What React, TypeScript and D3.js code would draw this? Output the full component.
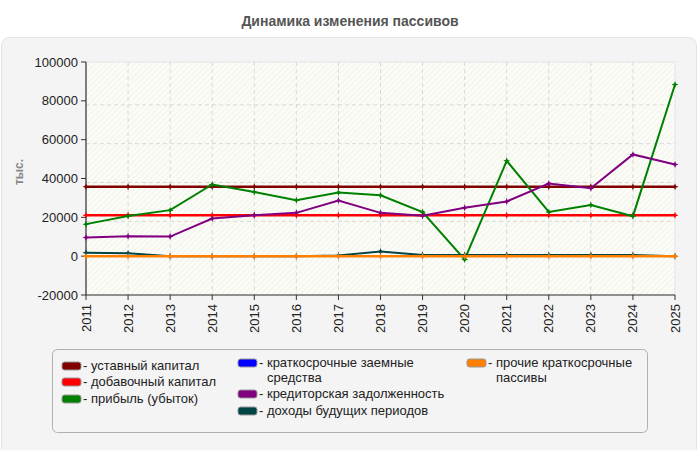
import React from "react";
import * as d3 from "d3";

const years = [2011, 2012, 2013, 2014, 2015, 2016, 2017, 2018, 2019, 2020, 2021, 2022, 2023, 2024, 2025];
const yTicks = [-20000, 0, 20000, 40000, 60000, 80000, 100000];

const ustavny = [35700, 35700, 35700, 35700, 35700, 35700, 35700, 35700, 35700, 35700, 35700, 35700, 35700, 35700, 35700];
const dobavochny = [21100, 21100, 21100, 21100, 21100, 21100, 21100, 21100, 21100, 21100, 21100, 21100, 21100, 21100, 21100];
const pribyl = [16500, 20700, 23700, 36900, 33100, 28800, 32800, 31400, 22700, -1700, 49100, 22800, 26300, 20600, 88400];
const kratkoZaem: (number | null)[] = [null, null, null, null, null, null, null, null, null, null, null, null, null, null, null];
const kreditor = [9600, 10300, 10100, 19400, 21100, 22300, 28700, 22300, 20800, 24900, 28200, 37400, 35000, 52400, 47200];
const dohody = [1700, 1500, 0, 0, 0, 0, 400, 2400, 600, 600, 600, 600, 600, 600, 0];
const prochie = [0, 0, 0, 0, 0, 0, 0, 0, 0, 0, 0, 0, 0, 0, 0];

const seriesNames = [
  "уставный капитал",
  "добавочный капитал",
  "прибыль (убыток)",
  "краткосрочные заемные средства",
  "кредиторская задолженность",
  "доходы будущих периодов",
  "прочие краткосрочные пассивы",
];
const seriesColors = ["#800000", "#ff0000", "#008000", "#0000ff", "#800080", "#004444", "#ff8000"];
const seriesData: (number | null)[][] = [ustavny, dobavochny, pribyl, kratkoZaem, kreditor, dohody, prochie];
const seriesWidths = [2.5, 2.5, 2, 2, 2, 2, 2.5];

const W = 700;
const H = 450;
const FONT = "'Liberation Sans', Arial, sans-serif";

export default function App() {
  const x = d3.scaleLinear().domain([2011, 2025]).range([86, 675]);
  const y = d3.scaleLinear().domain([-20000, 100000]).range([295, 62]);
  const line = d3
    .line<[number, number | null]>()
    .defined((d) => d[1] !== null)
    .x((d) => x(d[0]))
    .y((d) => y(d[1] as number));

  const legendLayout = [
    { col: 0, lines: ["уставный капитал"], y: 370 },
    { col: 0, lines: ["добавочный капитал"], y: 386 },
    { col: 0, lines: ["прибыль (убыток)"], y: 403 },
    { col: 1, lines: ["краткосрочные заемные", "средства"], y: 367 },
    { col: 1, lines: ["кредиторская задолженность"], y: 398 },
    { col: 1, lines: ["доходы будущих периодов"], y: 415 },
    { col: 2, lines: ["прочие краткосрочные", "пассивы"], y: 367 },
  ];
  const colX = [62, 238, 467];

  return (
    <svg width={W} height={H} style={{ position: "absolute", left: 0, top: 0 }} fontFamily={FONT}>
      <defs>
        <pattern id="hatch" width="4" height="4" patternUnits="userSpaceOnUse" patternTransform="rotate(45)">
          <rect width="4" height="4" fill="#fcfcf6" />
          <line x1="0" y1="0" x2="0" y2="4" stroke="#ececea" strokeWidth="1.2" />
        </pattern>
      </defs>
      <rect x={0} y={0} width={W} height={H} fill="#ffffff" />
      <text x={350} y={26} textAnchor="middle" fontSize={14} fontWeight="bold" fill="#555">
        Динамика изменения пассивов
      </text>
      <rect x={1.5} y={37.5} width={695} height={420} rx={8} fill="#f4f4f4" stroke="#e2e2e2" />

      {/* plot area */}
      <rect x={x(2011)} y={y(100000)} width={x(2025) - x(2011)} height={y(-20000) - y(100000)} fill="url(#hatch)" stroke="#e4e4e4" />

      {/* grid */}
      {yTicks
        .filter((t) => t > 0 && t < 100000)
        .map((t) => (
          <line key={"gy" + t} x1={x(2011)} x2={x(2025)} y1={y(t) + 4} y2={y(t) + 4} stroke="#d8d8d8" strokeDasharray="4,3" />
        ))}
      {years.slice(1, -1).map((yr) => (
        <line key={"gx" + yr} x1={x(yr)} x2={x(yr)} y1={y(100000)} y2={y(-20000)} stroke="#d8d8d8" strokeDasharray="4,3" />
      ))}

      {/* axes */}
      <line x1={x(2011)} x2={x(2011)} y1={y(100000)} y2={y(-20000)} stroke="#333" strokeWidth={1.2} />
      <line x1={x(2011)} x2={x(2025)} y1={y(-20000)} y2={y(-20000)} stroke="#333" strokeWidth={1.2} />
      {yTicks.map((t) => (
        <g key={"yt" + t}>
          <line x1={x(2011) - 5} x2={x(2011)} y1={y(t)} y2={y(t)} stroke="#333" />
          <text x={x(2011) - 8} y={y(t) + 4.5} textAnchor="end" fontSize={13} fill="#222">
            {t}
          </text>
        </g>
      ))}
      {years.map((yr) => (
        <g key={"xt" + yr}>
          <line x1={x(yr)} x2={x(yr)} y1={y(-20000)} y2={y(-20000) + 5} stroke="#333" />
          <text
            transform={`translate(${x(yr) + 4.5},${y(-20000) + 9}) rotate(-90)`}
            textAnchor="end"
            fontSize={13}
            fill="#222"
          >
            {yr}
          </text>
        </g>
      ))}
      <text transform="translate(23,172) rotate(-90)" textAnchor="middle" fontSize={12} fontWeight="bold" fill="#888">
        тыс.
      </text>

      {/* series */}
      {seriesData.map((vals, i) => {
        const pts = years.map((yr, j) => [yr, vals[j]] as [number, number | null]);
        return (
          <g key={"s" + i}>
            <path d={line(pts) || ""} fill="none" stroke={seriesColors[i]} strokeWidth={seriesWidths[i]} />
            {pts
              .filter((p) => p[1] !== null)
              .map((p) => {
                const cx = x(p[0]);
                const cy = y(p[1] as number);
                return (
                  <path
                    key={"m" + p[0]}
                    d={`M${cx},${cy - 3.5}L${cx + 1},${cy - 1}L${cx + 3.5},${cy}L${cx + 1},${cy + 1}L${cx},${cy + 3.5}L${cx - 1},${cy + 1}L${cx - 3.5},${cy}L${cx - 1},${cy - 1}Z`}
                    fill={seriesColors[i]}
                  />
                );
              })}
          </g>
        );
      })}

      {/* legend */}
      <rect x={52.5} y={349.5} width={595} height={83} rx={5} fill="#f4f4f4" stroke="#b0b0b0" />
      {legendLayout.map((it, i) => (
        <g key={"lg" + i}>
          <rect x={colX[it.col]} y={it.y - 8} width={19} height={8} rx={2.5} fill={seriesColors[i]} stroke="#999" strokeWidth={1} />
          {it.lines.map((ln, k) => (
            <text key={k} x={colX[it.col] + 21} y={it.y + k * 15} fontSize={13} fill="#222">
              {k === 0 ? "- " + ln : <tspan dx={8}>{ln}</tspan>}
            </text>
          ))}
        </g>
      ))}
    </svg>
  );
}
